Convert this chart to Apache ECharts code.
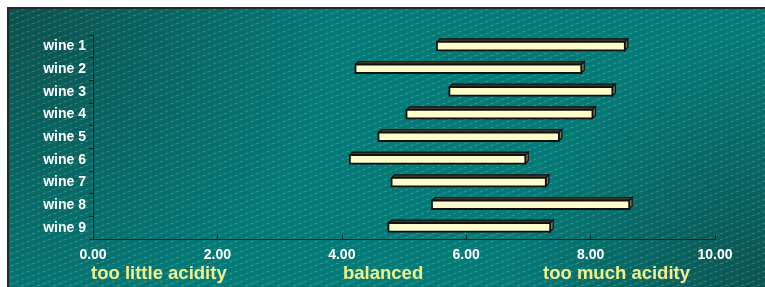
<!DOCTYPE html>
<html>
<head>
<meta charset="utf-8">
<script src="https://cdn.jsdelivr.net/npm/echarts@6/dist/echarts.min.js"></script>
<style>
  html, body { margin: 0; padding: 0; background: #fff; }
  #chart { width: 765px; height: 287px; }
</style>
</head>
<body>
<div id="chart"></div>
<script>
// wines, top to bottom
const wines = ['wine 1', 'wine 2', 'wine 3', 'wine 4', 'wine 5', 'wine 6', 'wine 7', 'wine 8', 'wine 9'];
// acidity range per wine (start / end)
const rangeStart = [5.53, 4.22, 5.73, 5.04, 4.59, 4.13, 4.80, 5.45, 4.75];
const rangeEnd = [8.55, 7.85, 8.35, 8.03, 7.49, 6.95, 7.28, 8.62, 7.35];
const zoneLabels = ['too little acidity', 'balanced', 'too much acidity'];

const chart = echarts.init(document.getElementById('chart'));

// diagonal dashed hatch like the old office background
function makeHatch() {
  const c = document.createElement('canvas');
  c.width = 16;
  c.height = 6;
  const g = c.getContext('2d');
  g.strokeStyle = 'rgba(255,255,255,0.22)';
  g.lineWidth = 1;
  g.setLineDash([3.5, 2]);
  for (let k = -1; k <= 1; k++) {
    g.beginPath();
    g.moveTo(0, 6 + k * 6);
    g.lineTo(16, k * 6);
    g.stroke();
  }
  return c;
}

const barData = wines.map((w, i) => [i, rangeStart[i], rangeEnd[i]]);

function renderBar(params, api) {
  const cat = api.value(0);
  const s = api.coord([api.value(1), cat]);
  const e = api.coord([api.value(2), cat]);
  const d = 3;      // depth of the 3d edge
  const h = 8.5;    // front face height
  const top = s[1] - 4.5;
  return {
    type: 'group',
    children: [
      {
        type: 'polygon',
        shape: { points: [[s[0], top], [s[0] + d, top - d], [e[0] + d, top - d], [e[0], top]] },
        style: { fill: '#3a3a28', stroke: '#111', lineWidth: 1.2 }
      },
      {
        type: 'polygon',
        shape: { points: [[e[0], top], [e[0] + d, top - d], [e[0] + d, top - d + h], [e[0], top + h]] },
        style: { fill: '#77775a', stroke: '#111', lineWidth: 1.2 }
      },
      {
        type: 'rect',
        shape: { x: s[0], y: top, width: e[0] - s[0], height: h },
        style: { fill: '#ffffcc', stroke: '#111', lineWidth: 1.8 }
      }
    ]
  };
}

const zoneX = [91, 343, 543];
const fontFam = '"Liberation Sans", Arial, sans-serif';

const option = {
  animation: false,
  graphic: [
    {
      type: 'rect', z: -10, silent: true,
      shape: { x: 8, y: 8, width: 765, height: 290 },
      style: { fill: '#047a77', stroke: '#1c2b2b', lineWidth: 2 }
    },
    {
      type: 'rect', z: -9, silent: true,
      shape: { x: 9, y: 9, width: 765, height: 290 },
      style: {
        fill: new echarts.graphic.RadialGradient(8, 8, 330, [
          { offset: 0, color: 'rgba(12,80,76,1)' },
          { offset: 0.45, color: 'rgba(12,80,76,0.55)' },
          { offset: 1, color: 'rgba(12,80,76,0)' }
        ], true)
      }
    },
    {
      type: 'rect', z: -9, silent: true,
      shape: { x: 9, y: 9, width: 765, height: 290 },
      style: {
        fill: new echarts.graphic.RadialGradient(765, 290, 260, [
          { offset: 0, color: 'rgba(12,80,76,0.95)' },
          { offset: 1, color: 'rgba(12,80,76,0)' }
        ], true)
      }
    },
    {
      type: 'rect', z: -8, silent: true,
      shape: { x: 9, y: 9, width: 765, height: 290 },
      style: { fill: { image: makeHatch(), repeat: 'repeat' } }
    },
    ...zoneLabels.map((t, i) => ({
      type: 'text', z: 10,
      left: zoneX[i], top: 264,
      style: { text: t, fill: '#f0f08c', font: 'bold 18.5px ' + fontFam }
    }))
  ],
  grid: { left: 93, right: 50, top: 35, bottom: 48 },
  xAxis: {
    type: 'value',
    min: 0, max: 10, interval: 2,
    axisLine: { show: true, lineStyle: { color: '#0d2626', width: 1 } },
    axisTick: { show: true, length: 4, inside: true, lineStyle: { color: '#0d2626' } },
    splitLine: { show: false },
    axisLabel: {
      color: '#ffffff', fontWeight: 'bold', fontSize: 14, margin: 9,
      fontFamily: fontFam,
      formatter: v => v.toFixed(2)
    }
  },
  yAxis: {
    type: 'category',
    data: wines,
    inverse: true,
    axisLine: { show: true, lineStyle: { color: '#0d2626', width: 1 } },
    axisTick: { show: true, length: 4, lineStyle: { color: '#0d2626' } },
    axisLabel: {
      color: '#ffffff', fontWeight: 'bold', fontSize: 14, margin: 7,
      fontFamily: fontFam
    }
  },
  series: [{
    type: 'custom',
    renderItem: renderBar,
    encode: { x: [1, 2], y: 0 },
    data: barData
  }]
};

chart.setOption(option);
</script>
</body>
</html>
